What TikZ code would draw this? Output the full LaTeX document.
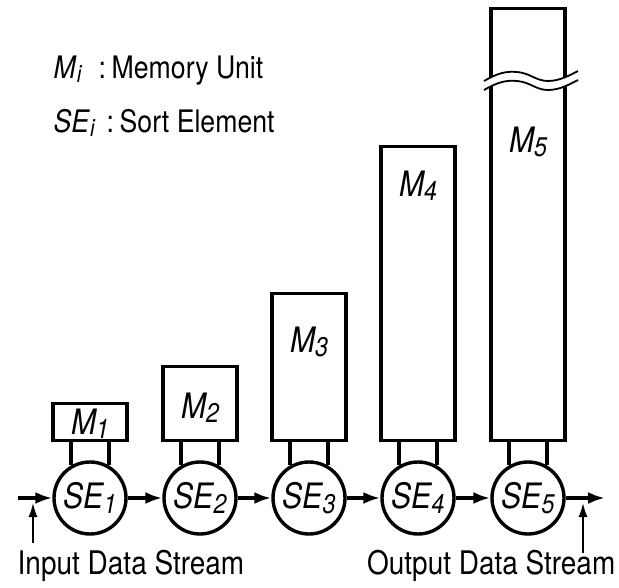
\documentclass[tikz,border=0pt]{standalone}
\usepackage{fontspec}
\setmainfont{TeX Gyre Heros}
\newfontfamily\condfont[FakeStretch=0.86]{TeX Gyre Heros}
\usetikzlibrary{arrows.meta}
\newcommand{\lowsub}[2][27]{\raisebox{-4.5pt}{\fontsize{#1}{#1}\selectfont\itshape #2}}
\begin{document}
\begin{tikzpicture}[x=1pt,y=-1pt,line width=3.4pt,
  se/.style={circle,draw,minimum size=72pt,inner sep=0pt,font=\condfont\fontsize{35}{35}\selectfont\itshape},
  mem/.style={draw,minimum width=74pt,inner sep=0pt,anchor=south},
  memlab/.style={anchor=base,inner sep=0pt,font=\condfont\fontsize{35}{35}\selectfont\itshape},
  flow/.style={-{Latex[length=17pt,width=12pt]},line width=3.4pt},
  pointer/.style={-{Latex[length=14pt,width=9pt]},line width=1.6pt},
  txt/.style={anchor=base west,inner sep=0pt,font=\condfont\fontsize{32.5}{32.5}\selectfont},
  legend/.style={anchor=base west,inner sep=0pt,font=\condfont\fontsize{31}{31}\selectfont}]
\useasboundingbox[fill=white] (0,0) rectangle (619,587);

% legend
\node[legend] (lm) at (52,78) {\textit{M}\lowsub[24]{i}};
\node[legend] (lmc) at (97,78) {:};
\node[legend] (lmt) at (110,78) {Memory Unit};
\node[legend] (ls) at (52,132) {\textit{SE}\lowsub[24]{i}};
\node[legend] (lsc) at (105,132) {:};
\node[legend] (lst) at (118,132) {Sort Element};

% memory boxes
\node[mem,minimum height=37pt] (m1) at (90,442) {};
\node[mem,minimum height=74pt] (m2) at (200,442) {};
\node[mem,minimum height=147pt] (m3) at (309,442) {};
\node[mem,minimum height=294pt] (m4) at (418,442) {};
\node[mem,minimum height=432pt] (m5) at (528,442) {};

\node[memlab] (l1) at (90,434) {M\lowsub{1}};
\node[memlab] (l2) at (200,418) {M\lowsub{2}};
\node[memlab] (l3) at (309,352) {M\lowsub{3}};
\node[memlab] (l4) at (418,196) {M\lowsub{4}};
\node[memlab] (l5) at (528,152) {M\lowsub{5}};

% break mark on M5
\fill[white] (484,81) .. controls (498,73) and (506,71) .. (517,72)
  .. controls (530,73) and (536,81) .. (548,81)
  .. controls (560,81) and (570,75) .. (578,71) -- (578,80)
  .. controls (570,84) and (560,90) .. (548,90)
  .. controls (536,90) and (530,82) .. (517,81)
  .. controls (506,80) and (498,82) .. (484,90) -- cycle;
\draw[line width=1.8pt] (484,81) .. controls (498,73) and (506,71) .. (517,72)
  .. controls (530,73) and (536,81) .. (548,81)
  .. controls (560,81) and (570,75) .. (578,71);
\draw[line width=1.8pt] (484,90) .. controls (498,82) and (506,80) .. (517,81)
  .. controls (530,82) and (536,90) .. (548,90)
  .. controls (560,90) and (570,84) .. (578,80);

% sort elements
\node[se] (se1) at (90,498) {SE\lowsub{1}};
\node[se] (se2) at (200,498) {SE\lowsub{2}};
\node[se] (se3) at (309,498) {SE\lowsub{3}};
\node[se] (se4) at (418,498) {SE\lowsub{4}};
\node[se] (se5) at (528,498) {SE\lowsub{5}};

% connections memory - sort element
\foreach \i in {1,...,5}{
  \draw (m\i.south -| se\i.120) -- (se\i.120);
  \draw (m\i.south -| se\i.60) -- (se\i.60);
}

% data flow
\coordinate (inL) at (18,498);
\coordinate (outR) at (605,498);
\draw[flow] (inL) -- (se1);
\draw[flow] (se1) -- (se2);
\draw[flow] (se2) -- (se3);
\draw[flow] (se3) -- (se4);
\draw[flow] (se4) -- (se5);
\draw[flow] (se5) -- (outR);

% stream labels
\coordinate (inB) at (33,543);
\coordinate (inT) at (33,503);
\coordinate (outB) at (583,553);
\coordinate (outT) at (583,503);
\draw[pointer] (inB) -- (inT);
\draw[pointer] (outB) -- (outT);
\node[txt] (inlab) at (16,574) {Input Data Stream};
\node[txt,anchor=base east] (outlab) at (617,574) {Output Data Stream};
\end{tikzpicture}
\end{document}
